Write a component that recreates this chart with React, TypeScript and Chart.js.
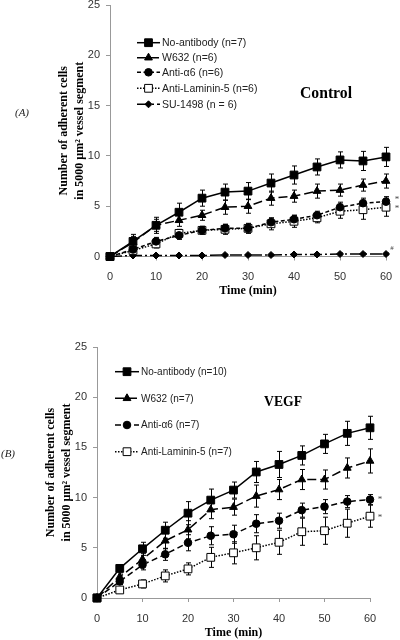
import React, { useEffect, useRef } from "react";
import { Chart, registerables } from "chart.js";
Chart.register(...registerables);

// ---------- data ----------
const TIMES = [0, 5, 10, 15, 20, 25, 30, 35, 40, 45, 50, 55, 60];

// Panel A (Control)
const A_LABELS = ["No-antibody (n=7)", "W632 (n=6)", "Anti-α6 (n=6)", "Anti-Laminin-5 (n=6)", "SU-1498 (n = 6)"];
const A_NOAB = [0, 1.5, 3.1, 4.4, 5.8, 6.4, 6.5, 7.3, 8.1, 8.9, 9.6, 9.5, 9.9];
const A_NOAB_ERR = [0, 0.7, 0.8, 0.9, 0.8, 0.8, 0.85, 0.9, 0.9, 0.8, 0.8, 0.95, 0.95];
const A_W632 = [0, 1.4, 3.1, 3.6, 4.1, 4.9, 5.0, 5.8, 6.0, 6.5, 6.6, 7.1, 7.5];
const A_W632_ERR = [0, 0.6, 0.6, 0.6, 0.5, 0.7, 0.7, 0.7, 0.6, 0.7, 0.6, 0.6, 0.7];
const A_A6 = [0, 0.7, 1.5, 2.1, 2.6, 2.8, 2.8, 3.4, 3.7, 4.1, 4.9, 5.3, 5.45];
const A_A6_ERR = [0, 0.3, 0.4, 0.4, 0.4, 0.4, 0.45, 0.4, 0.4, 0.4, 0.5, 0.5, 0.5];
const A_LAM = [0, 0.6, 1.25, 2.3, 2.6, 2.7, 2.8, 3.25, 3.5, 3.85, 4.5, 4.65, 4.9];
const A_LAM_ERR = [0, 0.3, 0.4, 0.4, 0.4, 0.5, 0.5, 0.6, 0.6, 0.5, 0.7, 0.95, 0.9];
const A_SU = [0, 0.1, 0.1, 0.1, 0.1, 0.15, 0.15, 0.15, 0.2, 0.2, 0.25, 0.25, 0.25];
const A_SU_ERR = [0, 0.08, 0.08, 0.08, 0.08, 0.08, 0.08, 0.08, 0.1, 0.1, 0.1, 0.1, 0.1];

// Panel B (VEGF)
const B_LABELS = ["No-antibody (n=10)", "W632 (n=7)", "Anti-α6 (n=7)", "Anti-Laminin-5 (n=7)"];
const B_NOAB = [0, 2.95, 4.9, 6.75, 8.45, 9.75, 10.75, 12.55, 13.3, 14.2, 15.35, 16.4, 16.95];
const B_NOAB_ERR = [0, 0.2, 0.65, 0.8, 1.15, 1.1, 0.8, 1.05, 1.3, 0.95, 0.95, 1.2, 1.15];
const B_W632 = [0, 2.1, 3.85, 5.7, 6.8, 8.8, 9.05, 10.15, 10.8, 11.8, 11.8, 12.95, 13.65];
const B_W632_ERR = [0, 0.4, 0.6, 0.8, 0.9, 0.9, 0.8, 1.1, 1.0, 1.0, 0.95, 1.0, 1.2];
const B_A6 = [0, 1.65, 3.3, 4.35, 5.5, 6.2, 6.35, 7.4, 7.7, 8.75, 9.1, 9.6, 9.8];
const B_A6_ERR = [0, 0.3, 0.5, 0.6, 0.8, 0.9, 0.9, 0.9, 0.75, 0.7, 0.7, 0.6, 0.5];
const B_LAM = [0, 0.8, 1.4, 2.2, 2.9, 4.05, 4.5, 5.0, 5.55, 6.6, 6.7, 7.45, 8.15];
const B_LAM_ERR = [0, 0.2, 0.4, 0.6, 0.6, 1.0, 1.1, 1.2, 1.2, 1.35, 1.35, 1.4, 1.1];

const Y_TITLE = ["Number of adherent cells", "in 5000 µm² vessel segment"];
const X_TITLE = "Time (min)";

// ---------- styles ----------
type Style = { dash: number[]; shape: string; r: number; open?: boolean };
const ST_NOAB: Style = { dash: [], shape: "rect", r: 5.5 };
const ST_W632: Style = { dash: [9, 4], shape: "triangle", r: 4.5 };
const ST_A6: Style = { dash: [4, 2.5], shape: "circle", r: 3.8 };
const ST_A6B: Style = { dash: [6, 3.5], shape: "circle", r: 3.8 };
const ST_LAM: Style = { dash: [1.5, 1.5], shape: "rect", r: 5.5, open: true };
const ST_SU: Style = { dash: [12, 3, 2, 3], shape: "rectRot", r: 3.5 };

const SERIF = '"Liberation Serif", "Times New Roman", serif';
const SANS = '"Liberation Sans", Arial, sans-serif';

type Series = { label: string; vals: number[]; errs: number[]; st: Style };

function drawMarker(ctx: CanvasRenderingContext2D, st: Style, x: number, y: number) {
  const r = st.r;
  ctx.save();
  ctx.setLineDash([]);
  ctx.lineWidth = 1;
  ctx.strokeStyle = "#000";
  ctx.fillStyle = st.open ? "#fff" : "#000";
  ctx.beginPath();
  if (st.shape === "rect") {
    const s = r * Math.SQRT1_2;
    ctx.rect(x - s, y - s, 2 * s, 2 * s);
  } else if (st.shape === "circle") {
    ctx.arc(x, y, r, 0, Math.PI * 2);
  } else if (st.shape === "triangle") {
    ctx.moveTo(x, y - r);
    ctx.lineTo(x - r * 0.866, y + r * 0.5);
    ctx.lineTo(x + r * 0.866, y + r * 0.5);
    ctx.closePath();
  } else {
    ctx.moveTo(x, y - r);
    ctx.lineTo(x + r, y);
    ctx.lineTo(x, y + r);
    ctx.lineTo(x - r, y);
    ctx.closePath();
  }
  ctx.fill();
  ctx.stroke();
  ctx.restore();
}

type PanelProps = {
  top: number;
  height: number;
  padTop: number;
  padRight: number;
  yAxisW: number;
  xAxisH: number;
  series: Series[];
  panelLabel: string;
  panelLabelPos: [number, number];
  yTitleX: [number, number];
  heading: string;
  headingPos: [number, number];
  headingWidth: number;
  headingSize: number;
  xTitleY: number;
  legendX: [number, number, number];
  legendY: number[];
  legendFont: number;
  marks: { t: string; x: number; y: number; size: number }[];
};

function Panel(p: PanelProps) {
  const ref = useRef<HTMLCanvasElement>(null);
  useEffect(() => {
    const canvas = ref.current!;
    const errPlugin = {
      id: "errbars",
      beforeDatasetsDraw(chart: any) {
        const ctx = chart.ctx as CanvasRenderingContext2D;
        const xs = chart.scales.x;
        const ys = chart.scales.y;
        ctx.save();
        ctx.strokeStyle = "#000";
        ctx.lineWidth = 1;
        ctx.setLineDash([]);
        p.series.forEach((s) => {
          s.vals.forEach((v, i) => {
            const e = s.errs[i];
            if (!e) return;
            const x = Math.round(xs.getPixelForValue(TIMES[i])) + 0.5;
            const y1 = ys.getPixelForValue(v + e);
            const y2 = ys.getPixelForValue(Math.max(0, v - e));
            ctx.beginPath();
            ctx.moveTo(x, y1);
            ctx.lineTo(x, y2);
            ctx.moveTo(x - 2.5, y1);
            ctx.lineTo(x + 2.5, y1);
            ctx.moveTo(x - 2.5, y2);
            ctx.lineTo(x + 2.5, y2);
            ctx.stroke();
          });
        });
        ctx.restore();
      },
    };
    const textPlugin = {
      id: "texts",
      afterDraw(chart: any) {
        const ctx = chart.ctx as CanvasRenderingContext2D;
        const ca = chart.chartArea;
        ctx.save();
        ctx.fillStyle = "#000";
        ctx.textAlign = "center";
        ctx.textBaseline = "middle";
        // panel label
        ctx.font = `italic 11px ${SERIF}`;
        ctx.fillStyle = "#222";
        ctx.fillText(p.panelLabel, p.panelLabelPos[0], p.panelLabelPos[1]);
        // y title
        ctx.fillStyle = "#000";
        ctx.font = `bold 12px ${SERIF}`;
        const cy = (ca.top + ca.bottom) / 2;
        Y_TITLE.forEach((line, k) => {
          ctx.save();
          ctx.translate(p.yTitleX[k], cy);
          ctx.rotate(-Math.PI / 2);
          ctx.fillText(line, 0, 0);
          ctx.restore();
        });
        // x title
        ctx.font = `bold 12px ${SERIF}`;
        ctx.fillText(X_TITLE, (ca.left + ca.right) / 2, p.xTitleY);
        // heading
        ctx.font = `bold ${p.headingSize}px ${SERIF}`;
        const w = ctx.measureText(p.heading).width;
        ctx.save();
        ctx.translate(p.headingPos[0], p.headingPos[1]);
        ctx.scale(p.headingWidth / w, 1);
        ctx.fillText(p.heading, 0, 0);
        ctx.restore();
        // legend
        ctx.textAlign = "left";
        ctx.font = `${p.legendFont}px ${SANS}`;
        p.series.forEach((s, k) => {
          const y = p.legendY[k];
          ctx.save();
          ctx.strokeStyle = "#000";
          ctx.lineWidth = 1.5;
          ctx.setLineDash(s.st.dash);
          ctx.beginPath();
          ctx.moveTo(p.legendX[0], y);
          ctx.lineTo(p.legendX[1], y);
          ctx.stroke();
          ctx.restore();
          drawMarker(ctx, s.st, (p.legendX[0] + p.legendX[1]) / 2, y);
          ctx.fillStyle = "#222";
          ctx.fillText(s.label, p.legendX[2], y + 0.5);
        });
        // significance marks
        ctx.fillStyle = "#444";
        ctx.textAlign = "center";
        p.marks.forEach((m) => {
          ctx.font = `${m.size}px ${SERIF}`;
          ctx.fillText(m.t, m.x, m.y);
        });
        ctx.restore();
      },
    };

    const tickFont = { family: SANS, size: 11 };
    const chart = new Chart(canvas, {
      type: "line",
      data: {
        datasets: p.series.map((s) => ({
          label: s.label,
          data: TIMES.map((t, i) => ({ x: t, y: s.vals[i] })),
          borderColor: "#000",
          borderWidth: 1.5,
          borderDash: s.st.dash,
          pointStyle: s.st.shape as any,
          pointRadius: s.st.r,
          pointBackgroundColor: s.st.open ? "#fff" : "#000",
          pointBorderColor: "#000",
          pointBorderWidth: 1,
          tension: 0,
          fill: false,
          clip: false as any,
        })),
      },
      options: {
        responsive: false,
        animation: false,
        devicePixelRatio: 1,
        events: [],
        layout: { padding: { left: 0, top: p.padTop, right: p.padRight, bottom: 0 }, autoPadding: false },
        plugins: { legend: { display: false }, tooltip: { enabled: false }, title: { display: false } },
        scales: {
          x: {
            type: "linear",
            min: 0,
            max: 60,
            ticks: { stepSize: 10, font: tickFont, color: "#333", padding: 10, maxRotation: 0 },
            grid: { drawOnChartArea: false, tickLength: 4, color: "#999" },
            border: { color: "#999" },
            afterFit: (s: any) => {
              s.height = p.xAxisH;
              s.paddingLeft = 0;
              s.paddingRight = 0;
              s.paddingTop = 0;
              s.paddingBottom = 0;
            },
          },
          y: {
            type: "linear",
            min: 0,
            max: 25,
            ticks: { stepSize: 5, font: tickFont, color: "#333", padding: 6 },
            grid: { drawOnChartArea: false, tickLength: 4, color: "#999" },
            border: { color: "#999" },
            afterFit: (s: any) => {
              s.width = p.yAxisW;
              s.paddingLeft = 0;
              s.paddingRight = 0;
              s.paddingTop = 0;
              s.paddingBottom = 0;
            },
          },
        },
      },
      plugins: [errPlugin, textPlugin],
    } as any);
    return () => chart.destroy();
  }, []);
  return (
    <canvas
      ref={ref}
      width={400}
      height={p.height}
      style={{ position: "absolute", left: 0, top: p.top, width: 400, height: p.height }}
    />
  );
}

const A_SERIES: Series[] = [
  { label: A_LABELS[0], vals: A_NOAB, errs: A_NOAB_ERR, st: ST_NOAB },
  { label: A_LABELS[1], vals: A_W632, errs: A_W632_ERR, st: ST_W632 },
  { label: A_LABELS[2], vals: A_A6, errs: A_A6_ERR, st: ST_A6 },
  { label: A_LABELS[3], vals: A_LAM, errs: A_LAM_ERR, st: ST_LAM },
  { label: A_LABELS[4], vals: A_SU, errs: A_SU_ERR, st: ST_SU },
];
const B_SERIES: Series[] = [
  { label: B_LABELS[0], vals: B_NOAB, errs: B_NOAB_ERR, st: ST_NOAB },
  { label: B_LABELS[1], vals: B_W632, errs: B_W632_ERR, st: ST_W632 },
  { label: B_LABELS[2], vals: B_A6, errs: B_A6_ERR, st: ST_A6B },
  { label: B_LABELS[3], vals: B_LAM, errs: B_LAM_ERR, st: ST_LAM },
];

export default function App() {
  return (
    <div style={{ position: "absolute", left: 0, top: 0, width: 400, height: 640, background: "#fff", overflow: "hidden" }}>
      <Panel
        top={0}
        height={300}
        padTop={5}
        padRight={14}
        yAxisW={110}
        xAxisH={43.5}
        series={A_SERIES}
        panelLabel="(A)"
        panelLabelPos={[22, 113]}
        yTitleX={[64, 80]}
        heading="Control"
        headingPos={[326, 94]}
        headingWidth={52}
        headingSize={16}
        xTitleY={291}
        legendX={[137, 160, 162]}
        legendY={[42.7, 57.7, 72.3, 88.3, 104.3]}
        legendFont={10.5}
        marks={[
          { t: "*", x: 397, y: 200, size: 9 },
          { t: "*", x: 397, y: 209, size: 9 },
          { t: "#", x: 392, y: 248, size: 7 },
        ]}
      />
      <Panel
        top={320}
        height={320}
        padTop={27}
        padRight={30}
        yAxisW={97}
        xAxisH={42}
        series={B_SERIES}
        panelLabel="(B)"
        panelLabelPos={[8, 134]}
        yTitleX={[51, 67]}
        heading="VEGF"
        headingPos={[283, 82]}
        headingWidth={38}
        headingSize={15}
        xTitleY={313}
        legendX={[115, 139, 141]}
        legendY={[51.7, 78.3, 105, 131.7]}
        legendFont={10}
        marks={[
          { t: "*", x: 380, y: 180, size: 9 },
          { t: "*", x: 380, y: 198, size: 9 },
        ]}
      />
    </div>
  );
}
